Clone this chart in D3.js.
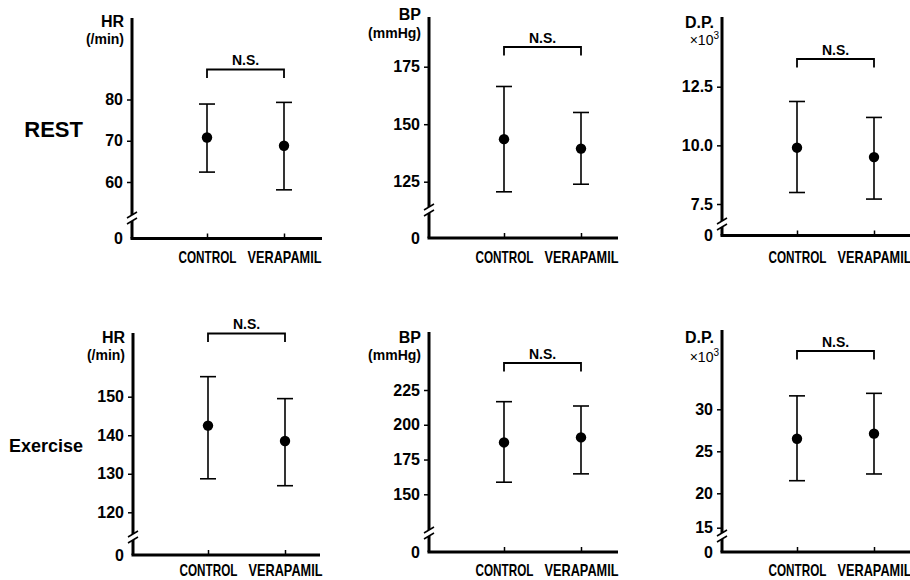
<!DOCTYPE html>
<html>
<head>
<meta charset="utf-8">
<script src="https://cdn.jsdelivr.net/npm/d3@7"></script>
<style>
  body { margin: 0; background: #fff; }
  svg text { font-family: "Liberation Sans", Arial, sans-serif; font-weight: bold; fill: #000; }
</style>
</head>
<body>
<script>
// groups on the x axis
var categories = ["CONTROL", "VERAPAMIL"];
var rowLabels = ["REST", "Exercise"];

// mean, upper and lower end of each error bar (CONTROL, VERAPAMIL)
var hrRestMean = [70.8, 68.8], hrRestHi = [78.9, 79.3], hrRestLo = [62.4, 58.1];
var bpRestMean = [143.5, 139.4], bpRestHi = [166.4, 155.1], bpRestLo = [120.6, 123.9];
var dpRestMean = [9.9, 9.5], dpRestHi = [11.87, 11.19], dpRestLo = [7.99, 7.71];
var hrExMean = [142.5, 138.5], hrExHi = [155.2, 149.5], hrExLo = [128.7, 126.9];
var bpExMean = [187.3, 190.9], bpExHi = [216.6, 213.5], bpExLo = [158.7, 164.7];
var dpExMean = [26.5, 27.1], dpExHi = [31.6, 31.9], dpExLo = [21.5, 22.3];

// tick labels
var hrRestTicks = [60, 70, 80];
var bpRestTicks = [125, 150, 175];
var dpRestTicks = [7.5, 10.0, 12.5];
var hrExTicks = [120, 130, 140, 150];
var bpExTicks = [150, 175, 200, 225];
var dpExTicks = [15, 20, 25, 30];

var svg = d3.select("body").append("svg")
  .attr("width", 910)
  .attr("height", 580);

// layout of each small panel
var panels = [
  {ax: 132, top: 18, base: 238.5, right: 322, brk: 218, dom: [60, 80], rng: [182, 99.5], ticks: hrRestTicks, fmt: "d",
   mean: hrRestMean, hi: hrRestHi, lo: hrRestLo, unit: "HR", sub: "(/min)", unitY: [27, 44], ns: 69.5, catY: 263},
  {ax: 429, top: 17, base: 238, right: 618, brk: 210, dom: [125, 175], rng: [181.7, 66.7], ticks: bpRestTicks, fmt: "d",
   mean: bpRestMean, hi: bpRestHi, lo: bpRestLo, unit: "BP", sub: "(mmHg)", unitY: [20, 38], ns: 47, catY: 263},
  {ax: 722, top: 17, base: 235.5, right: 910, brk: 224, dom: [7.5, 12.5], rng: [204, 86.7], ticks: dpRestTicks, fmt: ".1f",
   mean: dpRestMean, hi: dpRestHi, lo: dpRestLo, unit: "D.P.", sub: "x103", unitY: [28, 45], ns: 59, catY: 263},
  {ax: 133, top: 333, base: 555, right: 320, brk: 537, dom: [120, 150], rng: [512.3, 396.7], ticks: hrExTicks, fmt: "d",
   mean: hrExMean, hi: hrExHi, lo: hrExLo, unit: "HR", sub: "(/min)", unitY: [343, 360], ns: 333.5, catY: 576},
  {ax: 429, top: 332, base: 552, right: 618, brk: 533, dom: [150, 225], rng: [494.3, 390], ticks: bpExTicks, fmt: "d",
   mean: bpExMean, hi: bpExHi, lo: bpExLo, unit: "BP", sub: "(mmHg)", unitY: [343, 360], ns: 363, catY: 576},
  {ax: 722, top: 330, base: 552, right: 910, brk: 536, dom: [15, 20, 30], rng: [527.7, 493.3, 409.3], ticks: dpExTicks, fmt: "d",
   mean: dpExMean, hi: dpExHi, lo: dpExLo, unit: "D.P.", sub: "x103", unitY: [343, 362], ns: 351, catY: 576}
];

panels.forEach(function (p) {
  var g = svg.append("g");

  var y = d3.scaleLinear().domain(p.dom).range(p.rng);
  var x = d3.scalePoint().domain(categories).range([p.ax + 75, p.ax + 152]);

  // y ticks and labels
  var yAxis = g.append("g")
    .attr("transform", `translate(${p.ax}, 0)`)
    .call(d3.axisLeft(y).tickValues(p.ticks).tickFormat(d3.format(p.fmt)).tickSize(5).tickPadding(4));
  yAxis.select(".domain").remove();
  yAxis.selectAll("line").attr("stroke", "#000").attr("stroke-width", 1.5);
  yAxis.selectAll("text").style("font-size", "16px").style("font-family", null);

  // x ticks and group labels (squeezed, the original type is condensed)
  var xAxis = g.append("g")
    .attr("transform", `translate(0, ${p.base})`)
    .call(d3.axisBottom(x).tickSize(-5).tickPadding(p.catY - p.base - 11.4));
  xAxis.select(".domain").remove();
  xAxis.selectAll("line").attr("stroke", "#000").attr("stroke-width", 1.5);
  xAxis.selectAll("text")
    .style("font-size", "16px")
    .style("font-family", null)
    .attr("transform", function (d) {
      var w = this.getComputedTextLength();
      var target = d == "CONTROL" ? 58 : 74;
      return `scale(${target / w}, 1)`;
    });

  // broken y axis line
  g.append("line").attr("x1", p.ax).attr("x2", p.ax).attr("y1", p.top).attr("y2", p.brk - 3)
    .attr("stroke", "#000").attr("stroke-width", 3);
  g.append("line").attr("x1", p.ax).attr("x2", p.ax).attr("y1", p.brk + 3).attr("y2", p.base)
    .attr("stroke", "#000").attr("stroke-width", 3);
  [-3, 3].forEach(function (o) {
    g.append("line")
      .attr("x1", p.ax - 5).attr("y1", p.brk + o + 3)
      .attr("x2", p.ax + 5).attr("y2", p.brk + o - 3)
      .attr("stroke", "#000").attr("stroke-width", 1.5);
  });

  // x axis line
  g.append("line").attr("x1", p.ax - 1.5).attr("x2", p.right).attr("y1", p.base).attr("y2", p.base)
    .attr("stroke", "#000").attr("stroke-width", 3);

  g.append("text")
    .attr("x", p.ax - 9).attr("y", p.base)
    .attr("dy", "0.35em")
    .attr("text-anchor", "end")
    .style("font-size", "16px")
    .text("0");

  // unit label
  g.append("text")
    .attr("x", p.ax - 8).attr("y", p.unitY[0])
    .attr("text-anchor", "end")
    .style("font-size", "16px")
    .text(p.unit);
  if (p.sub == "x103") {
    var t = g.append("text")
      .attr("x", p.ax - 3).attr("y", p.unitY[1])
      .attr("text-anchor", "end")
      .style("font-size", "14px")
      .style("font-weight", "normal");
    t.append("tspan").text("\u00d710");
    t.append("tspan").attr("dy", -6).style("font-size", "10px").text("3");
  } else {
    g.append("text")
      .attr("x", p.ax - 8).attr("y", p.unitY[1])
      .attr("text-anchor", "end")
      .style("font-size", "14px")
      .text(p.sub);
  }

  // N.S. bracket
  var x0 = x(categories[0]), x1 = x(categories[1]);
  g.append("path")
    .attr("d", `M${x0},${p.ns + 8.5}V${p.ns}H${x1}V${p.ns + 8.5}`)
    .attr("fill", "none")
    .attr("stroke", "#000")
    .attr("stroke-width", 1.8);
  g.append("text")
    .attr("x", (x0 + x1) / 2).attr("y", p.ns - 4.5)
    .attr("text-anchor", "middle")
    .style("font-size", "14px")
    .text("N.S.");

  // error bars and means
  var bars = g.selectAll(".bar")
    .data(categories)
    .enter()
    .append("g")
    .attr("class", "bar");
  bars.append("line")
    .attr("x1", d => x(d)).attr("x2", d => x(d))
    .attr("y1", (d, i) => y(p.hi[i])).attr("y2", (d, i) => y(p.lo[i]))
    .attr("stroke", "#000").attr("stroke-width", 1.6);
  bars.append("line")
    .attr("x1", d => x(d) - 8).attr("x2", d => x(d) + 8)
    .attr("y1", (d, i) => y(p.hi[i])).attr("y2", (d, i) => y(p.hi[i]))
    .attr("stroke", "#000").attr("stroke-width", 1.6);
  bars.append("line")
    .attr("x1", d => x(d) - 8).attr("x2", d => x(d) + 8)
    .attr("y1", (d, i) => y(p.lo[i])).attr("y2", (d, i) => y(p.lo[i]))
    .attr("stroke", "#000").attr("stroke-width", 1.6);
  bars.append("circle")
    .attr("cx", d => x(d))
    .attr("cy", (d, i) => y(p.mean[i]))
    .attr("r", 5.2)
    .attr("fill", "#000");
});

// row labels
svg.append("text")
  .attr("x", 83).attr("y", 137)
  .attr("text-anchor", "end")
  .style("font-size", "22px")
  .text(rowLabels[0]);

svg.append("text")
  .attr("x", 83).attr("y", 452)
  .attr("text-anchor", "end")
  .style("font-size", "18px")
  .text(rowLabels[1]);
</script>
</body>
</html>
